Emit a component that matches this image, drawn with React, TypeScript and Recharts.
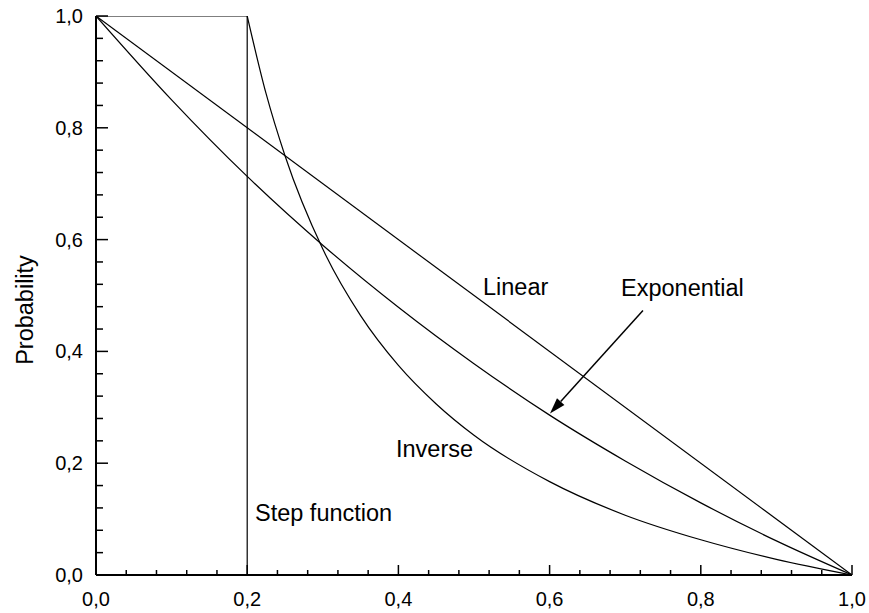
import React from "react";
import {
  LineChart,
  Line,
  XAxis,
  YAxis,
  ReferenceLine,
  Customized,
} from "recharts";

// curves (x in [0,1], probability in [0,1])
const linearX = [0, 1];
const linearY = [1, 0];

const stepX = [0, 0.2, 0.2];
const stepY = [1, 1, 0];

const expX = [0, 0.1, 0.2, 0.3, 0.4, 0.5, 0.6, 0.7, 0.8, 0.9, 1];
const expY = [1, 0.85, 0.713, 0.59, 0.479, 0.378, 0.286, 0.204, 0.129, 0.061, 0];

const invX = [0.2, 0.225, 0.25, 0.3, 0.35, 0.4, 0.45, 0.5, 0.6, 0.7, 0.8, 0.9, 1];
const invY = [1, 0.861, 0.75, 0.583, 0.464, 0.375, 0.306, 0.25, 0.167, 0.107, 0.063, 0.028, 0];

const tickValues = [
  0, 0.04, 0.08, 0.12, 0.16, 0.2, 0.24, 0.28, 0.32, 0.36, 0.4, 0.44, 0.48,
  0.52, 0.56, 0.6, 0.64, 0.68, 0.72, 0.76, 0.8, 0.84, 0.88, 0.92, 0.96, 1,
];

// arrow from "Exponential" label down to the curve
const arrowFrom = { x: 0.7235, y: 0.473 };
const arrowTo = { x: 0.6005, y: 0.289 };

const toRows = (xs: number[], ys: number[]) => xs.map((x, i) => ({ x, y: ys[i] }));

const FONT = "'Liberation Sans', Arial, Helvetica, sans-serif";

const isMajor = (v: number) => Math.round(v * 100) % 20 === 0;
const fmt = (v: number) => v.toFixed(1).replace(".", ",");

const XTick = (props: any) => {
  const { x, y, payload } = props;
  const major = isMajor(payload.value);
  return (
    <g>
      <line x1={x} x2={x} y1={y} y2={y - (major ? 10 : 5)} stroke="#000" strokeWidth={1.5} />
      {major && (
        <text x={x} y={y + 31} textAnchor="middle" fontSize={20} fontFamily={FONT} fill="#000">
          {fmt(payload.value)}
        </text>
      )}
    </g>
  );
};

const YTick = (props: any) => {
  const { x, y, payload } = props;
  const major = isMajor(payload.value);
  return (
    <g>
      <line x1={x} x2={x + (major ? 12 : 7)} y1={y} y2={y} stroke="#000" strokeWidth={1.5} />
      {major && (
        <text x={x - 13} y={y + 7} textAnchor="end" fontSize={20} fontFamily={FONT} fill="#000">
          {fmt(payload.value)}
        </text>
      )}
    </g>
  );
};

const Arrow = (props: any) => {
  const { x1, y1, x2, y2 } = props;
  const ang = Math.atan2(y2 - y1, x2 - x1);
  const len = 16;
  const half = 5;
  const bx = x2 - len * Math.cos(ang);
  const by = y2 - len * Math.sin(ang);
  const px = -Math.sin(ang) * half;
  const py = Math.cos(ang) * half;
  return (
    <g>
      <line x1={x1} y1={y1} x2={bx} y2={by} stroke="#000" strokeWidth={1.5} />
      <polygon points={`${x2},${y2} ${bx + px},${by + py} ${bx - px},${by - py}`} fill="#000" />
    </g>
  );
};

const Labels = () => (
  <g fontFamily={FONT} fill="#000" fontSize={23.5}>
    <text x={33} y={310} textAnchor="middle" transform="rotate(-90 33 310)">
      Probability
    </text>
    <text x={483} y={295}>Linear</text>
    <text x={621} y={296}>Exponential</text>
    <text x={396} y={457}>Inverse</text>
    <text x={255} y={521}>Step function</text>
  </g>
);

export default function App() {
  const lineProps = {
    type: "linear" as const,
    dataKey: "y",
    stroke: "#000",
    strokeWidth: 1.2,
    dot: false,
    activeDot: false,
    isAnimationActive: false,
  };

  return (
    <div style={{ position: "absolute", left: 0, top: 0, background: "#fff" }}>
      <LineChart width={869} height={613} margin={{ top: 16, right: 17, left: 0, bottom: 0 }}>
        <XAxis
          dataKey="x"
          type="number"
          domain={[0, 1]}
          ticks={tickValues}
          interval={0}
          tickSize={0}
          tickMargin={0}
          tickLine={false}
          axisLine={{ stroke: "#000", strokeWidth: 2 }}
          tick={<XTick />}
          height={38}
          allowDataOverflow
        />
        <YAxis
          type="number"
          domain={[0, 1]}
          ticks={tickValues}
          interval={0}
          tickSize={0}
          tickMargin={0}
          tickLine={false}
          axisLine={{ stroke: "#000", strokeWidth: 2 }}
          tick={<YTick />}
          width={96}
          allowDataOverflow
        />
        <Line {...lineProps} data={toRows(stepX, stepY)} />
        <Line {...lineProps} data={toRows(linearX, linearY)} />
        <Line {...lineProps} type="monotone" data={toRows(expX, expY)} />
        <Line {...lineProps} type="monotone" data={toRows(invX, invY)} />
        <ReferenceLine
          segment={[arrowFrom, arrowTo]}
          stroke="#000"
          shape={(p: any) => <Arrow {...p} />}
        />
        <Customized component={Labels} />
      </LineChart>
    </div>
  );
}
